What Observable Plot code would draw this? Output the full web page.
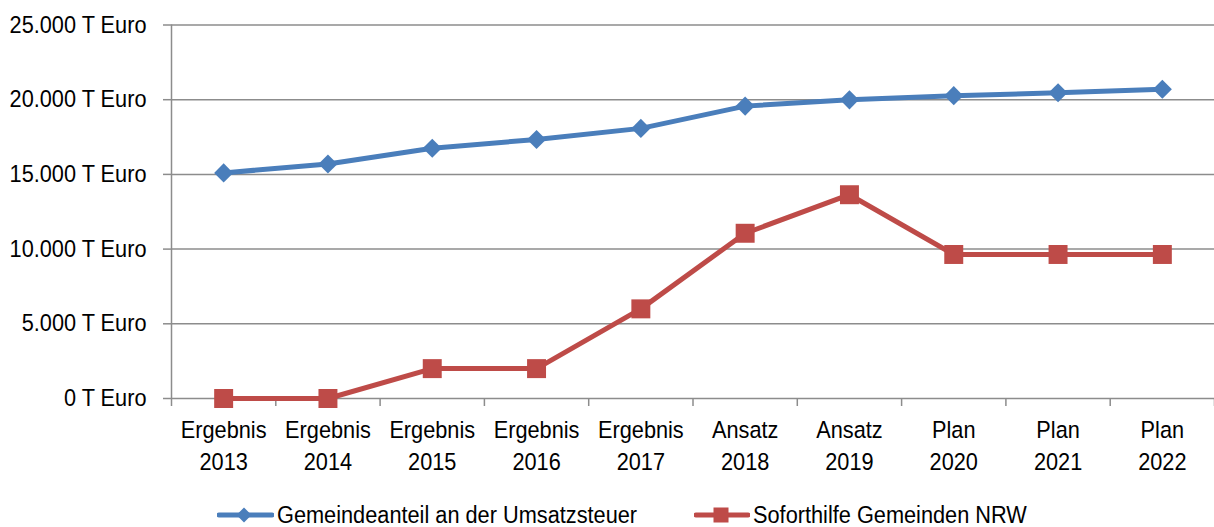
<!DOCTYPE html>
<html><head><meta charset="utf-8">
<script src="https://cdn.jsdelivr.net/npm/d3@7"></script>
<script src="https://cdn.jsdelivr.net/npm/@observablehq/plot@0.6"></script>
<style>
html,body{margin:0;padding:0;background:#fff;overflow:hidden;}
body{width:1214px;height:527px;font-family:"Liberation Sans",Arial,sans-serif;}
#legend{position:relative;height:47px;font-size:23.5px;color:#000;}
.item{position:absolute;top:21.5px;display:flex;align-items:center;white-space:nowrap;line-height:27px;}
.item svg{display:block;margin-right:3px;}
.item span{display:inline-block;transform:scaleX(0.925);transform-origin:0 50%;}
</style></head>
<body>
<div id="chart"></div>
<div id="legend"></div>
<script>
const kinds = ["Ergebnis","Ergebnis","Ergebnis","Ergebnis","Ergebnis","Ansatz","Ansatz","Plan","Plan","Plan"];
const years = [2013,2014,2015,2016,2017,2018,2019,2020,2021,2022];
const umsatzsteuer = [15100,15700,16750,17340,18080,19570,19990,20270,20460,20700];
const soforthilfe = [0,0,2000,2000,6000,11060,13640,9640,9640,9640];
const yTicks = [0,5000,10000,15000,20000,25000];
const seriesNames = ["Gemeindeanteil an der Umsatzsteuer","Soforthilfe Gemeinden NRW"];
const colors = ["#4a7ebb","#be4b48"];

const idx = years.map((_, i) => i);
const blue = idx.map(i => ({i, v: umsatzsteuer[i]}));
const red = idx.map(i => ({i, v: soforthilfe[i]}));
const cats = idx.map(i => ({i, label: kinds[i] + "\n" + years[i]}));
const bounds = d3.range(-0.5, 10, 1);
const fmt = v => d3.format(",")(v).replace(/,/g, ".") + " T Euro";
const FONT = '"Liberation Sans",Arial,sans-serif';
const SQUEEZE = 0.925;

const chart = Plot.plot({
  width: 1214, height: 480,
  marginLeft: 171, marginRight: 0, marginTop: 24.5, marginBottom: 82,
  style: {fontFamily: FONT, fontSize: "23.5px", color: "#000", background: "#fff"},
  x: {type: "linear", domain: [-0.5, 9.5], axis: null},
  y: {domain: [0, 25000], axis: null},
  marks: [
    Plot.ruleY(yTicks, {stroke: "#8c8c8c", strokeWidth: 1.5}),
    Plot.ruleX([-0.5], {y1: 0, y2: 25000, stroke: "#8c8c8c", strokeWidth: 1.5}),
    Plot.ruleY(yTicks, {x1: -0.5, x2: -0.5, insetLeft: -4, insetRight: -4, dx: -4, stroke: "#8c8c8c", strokeWidth: 1.5}),
    Plot.ruleX(bounds, {y1: 0, y2: 0, insetTop: -4, insetBottom: -4, dy: 4, stroke: "#8c8c8c", strokeWidth: 1.5}),
    Plot.text(yTicks, {x: -0.5, y: d => d, text: fmt, textAnchor: "end", dx: -25, fill: "#000"}),
    Plot.text(cats, {x: "i", y: 0, text: "label", lineAnchor: "top", dy: 17, lineHeight: 1.36, fill: "#000"}),
    Plot.line(blue, {x: "i", y: "v", stroke: colors[0], strokeWidth: 5}),
    Plot.line(red, {x: "i", y: "v", stroke: colors[1], strokeWidth: 5}),
    Plot.dot(blue, {x: "i", y: "v", symbol: "diamond2", r: 8.6, fill: colors[0], stroke: "none"}),
    Plot.dot(red, {x: "i", y: "v", symbol: "square", r: 10.7, fill: colors[1], stroke: "none"})
  ]
});
// condense the text horizontally around its anchor to mimic the narrow original font
chart.querySelectorAll("text").forEach(t => {
  const tr = t.getAttribute("transform") || "";
  t.setAttribute("transform", (tr + ` scale(${SQUEEZE},1)`).trim());
});
document.getElementById("chart").appendChild(chart);

const legend = document.getElementById("legend");
const lx = [217, 694];
seriesNames.forEach((name, k) => {
  const d = document.createElement("div");
  d.className = "item";
  d.style.left = lx[k] + "px";
  const w = k === 0 ? 57 : 56;
  const c = 27;
  const marker = k === 0
    ? `<polygon points="${c},-7.5 ${c+7.5},0 ${c},7.5 ${c-7.5},0" fill="${colors[0]}"/>`
    : `<rect x="${c-7.5}" y="-7.5" width="15" height="15" fill="${colors[1]}"/>`;
  d.innerHTML = `<svg width="${w}" height="24" viewBox="0 -12 ${w} 24"><line x1="2" x2="${w-2}" y1="0" y2="0" stroke="${colors[k]}" stroke-width="5" stroke-linecap="round"/>${marker}</svg><span>${name}</span>`;
  legend.appendChild(d);
});
</script>
</body></html>
